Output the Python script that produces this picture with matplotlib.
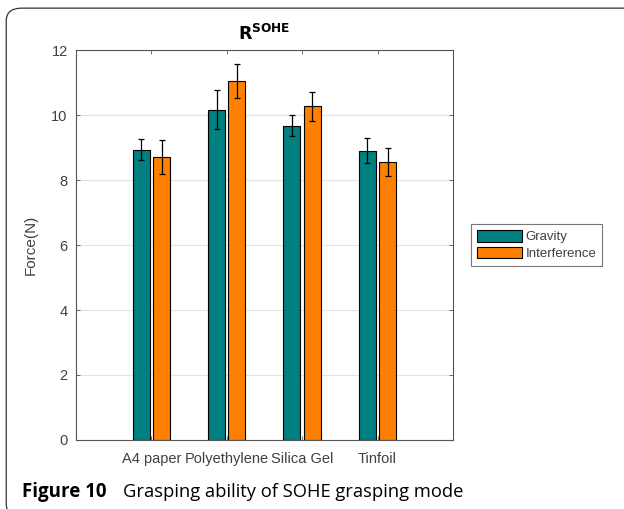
import numpy as np
import matplotlib
matplotlib.use("Agg")
import matplotlib.pyplot as plt
from matplotlib.patches import FancyBboxPatch

plt.rcParams["font.family"] = ["Liberation Sans", "DejaVu Sans"]

materials = ["A4 paper", "Polyethylene", "Silica Gel", "Tinfoil"]
gravity = [8.94, 10.16, 9.67, 8.90]
gravity_err = [0.33, 0.60, 0.32, 0.39]
interference = [8.70, 11.04, 10.27, 8.55]
interference_err = [0.52, 0.52, 0.44, 0.43]
yticks = [0, 2, 4, 6, 8, 10, 12]

C_TEAL = "#008080"
C_ORANGE = "#FF8000"
C_TXT = "#404040"

fig = plt.figure(figsize=(6.24, 5.09), dpi=100)

# outer rounded frame of the figure panel (right and bottom run off the image)
frame = FancyBboxPatch((0.010, -0.015), 1.2, 0.999, boxstyle="round,pad=0,rounding_size=0.025",
                       transform=fig.transFigure, fill=False, edgecolor="#333333", linewidth=0.9)
fig.patches.append(frame)

ax = fig.add_axes([0.1218, 0.1356, 0.604, 0.766])
x = np.arange(1, len(materials) + 1)
w = 0.225
off = 0.135
ax.bar(x - off, gravity, width=w, color=C_TEAL, edgecolor="black", linewidth=0.8, label="Gravity", zorder=2)
ax.bar(x + off, interference, width=w, color=C_ORANGE, edgecolor="black", linewidth=0.8, label="Interference", zorder=2)
ax.errorbar(x - off, gravity, yerr=gravity_err, fmt="none", ecolor="black", elinewidth=0.9, capsize=2.5, capthick=0.9, zorder=3)
ax.errorbar(x + off, interference, yerr=interference_err, fmt="none", ecolor="black", elinewidth=0.9, capsize=2.5, capthick=0.9, zorder=3)

ax.set_xlim(0, 5)
ax.set_ylim(0, 12)
ax.set_xticks(x)
ax.set_xticklabels(materials, fontsize=10.5, color=C_TXT)
ax.set_yticks(yticks)
ax.set_yticklabels([str(v) for v in yticks], fontsize=10.5, color=C_TXT)
ax.tick_params(direction="in", top=True, right=True, length=3, width=0.6, colors="#555555", labelcolor=C_TXT, pad=6)
ax.tick_params(axis="x", pad=9)
ax.yaxis.grid(True, color="#e3e3e3", linewidth=0.8, zorder=0)
ax.set_axisbelow(True)
for s in ax.spines.values():
    s.set_color("#555555"); s.set_linewidth(0.8)
ax.set_ylabel("Force(N)", fontsize=11, color=C_TXT, labelpad=10)
ax.set_title(r"$\mathbf{R^{SOHE}}$", fontsize=12.5, pad=7)

leg = ax.legend(loc="center left", bbox_to_anchor=(1.03, 0.5), fontsize=9.5, frameon=True, fancybox=False,
                edgecolor="#555555", handlelength=3.4, handleheight=1.0, borderpad=0.45, labelspacing=0.25,
                handletextpad=0.3)
leg.get_frame().set_linewidth(0.8)
for t in leg.get_texts():
    t.set_color(C_TXT)

fig.text(0.036, 0.024, "Figure 10", fontsize=13.5, fontweight="bold", family=["Open Sans", "DejaVu Sans"], va="baseline")
fig.text(0.197, 0.024, "Grasping ability of SOHE grasping mode", fontsize=13.2, family=["Open Sans", "DejaVu Sans"], va="baseline")

fig.savefig("out.png", dpi=100)
